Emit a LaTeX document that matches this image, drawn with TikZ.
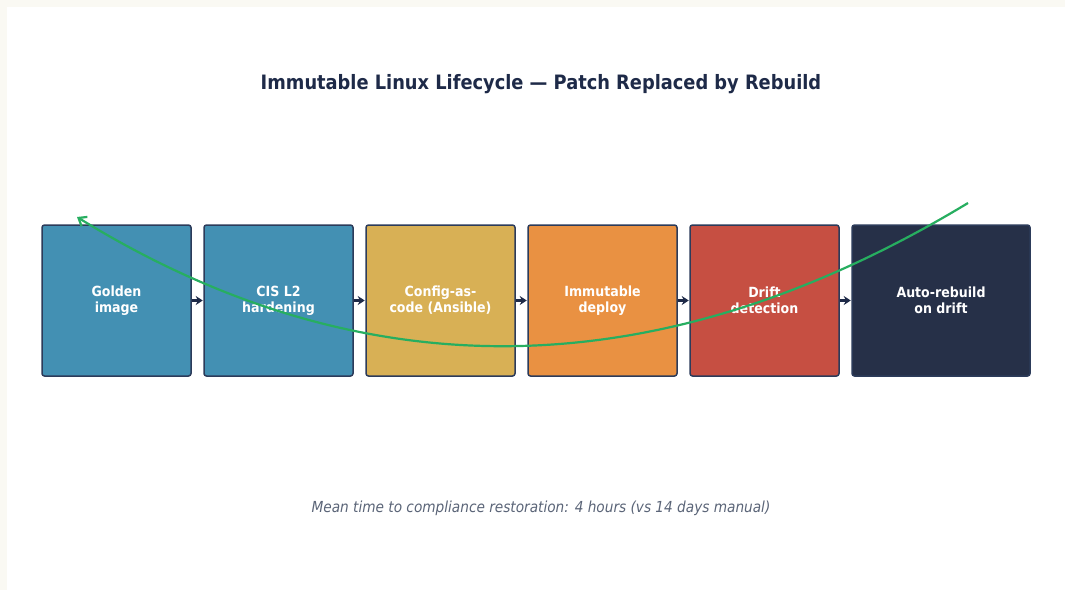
\documentclass[tikz,border=0pt]{standalone}
\usepackage{fontspec}
\setmainfont{DejaVu Sans Condensed}
\usetikzlibrary{arrows.meta}
\definecolor{cream}{HTML}{FAF9F3}
\definecolor{navy}{HTML}{1E2A48}
\definecolor{edge}{HTML}{2C3B5A}
\definecolor{cblue}{HTML}{4390B3}
\definecolor{cgold}{HTML}{D8B055}
\definecolor{corange}{HTML}{E99142}
\definecolor{cred}{HTML}{C64F42}
\definecolor{cdark}{HTML}{263048}
\definecolor{cgreen}{HTML}{27AE60}
\definecolor{cgray}{HTML}{5B6578}
\tikzset{
  stagebox/.style={draw=edge, line width=1.5pt, rounded corners=2.5pt, minimum height=151pt,
    text=white, align=center, font=\fontsize{14}{16}\selectfont\bfseries, inner sep=0pt},
  flow/.style={draw=navy, line width=2.4pt, -{Stealth[length=7pt,width=9pt]}, shorten >=0.5pt},
  loopback/.style={draw=cgreen, line width=2.2pt, -{Straight Barb[length=7pt,width=11pt]}}
}
\begin{document}
\begin{tikzpicture}[x=1pt,y=-1pt]
\fill[cream] (0,0) rectangle (1065,590);
\fill[white] (7,7) rectangle (1065,590);
\useasboundingbox (0,0) rectangle (1065,590);
\node[text=navy, font=\fontsize{19.8}{22}\selectfont\bfseries] (title) at (541,84.5) {Immutable Linux Lifecycle — Patch Replaced by Rebuild};
\node[stagebox, fill=cblue, minimum width=149pt] (s1) at (116.5,300.5) {Golden\\image};
\node[stagebox, fill=cblue, minimum width=149pt] (s2) at (278.5,300.5) {CIS L2\\hardening};
\node[stagebox, fill=cgold, minimum width=149pt] (s3) at (440.5,300.5) {Config-as-\\code (Ansible)};
\node[stagebox, fill=corange, minimum width=149pt] (s4) at (602.5,300.5) {Immutable\\deploy};
\node[stagebox, fill=cred, minimum width=149pt] (s5) at (764.5,300.5) {Drift\\detection};
\node[stagebox, fill=cdark, minimum width=178pt] (s6) at (941,300.5) {Auto-rebuild\\on drift};
\draw[flow] (s1.east) -- (s2.west);
\draw[flow] (s2.east) -- (s3.west);
\draw[flow] (s3.east) -- (s4.west);
\draw[flow] (s4.east) -- (s5.west);
\draw[flow] (s5.east) -- (s6.west);
\coordinate (loopstart) at (968,203);
\coordinate (loopend) at (77,217);
\draw[loopback] (loopstart) .. controls (660.7,388.7) and (364,393.7) .. (loopend);
\node[text=cgray, font=\fontsize{15.2}{17}\selectfont\itshape] (note) at (541,508) {Mean time to compliance restoration: 4 hours (vs 14 days manual)};
\end{tikzpicture}
\end{document}
